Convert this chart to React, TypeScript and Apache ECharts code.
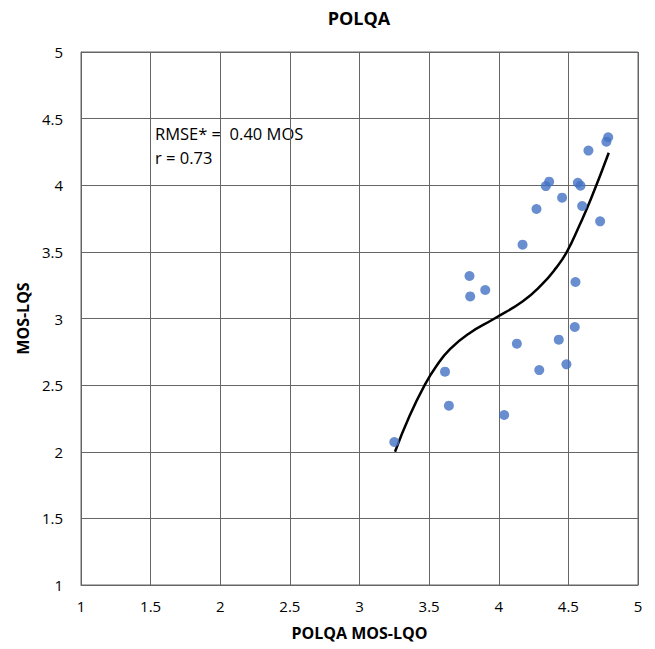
import React, { useEffect, useRef } from "react";
import * as echarts from "echarts";

const xTicks = [1, 1.5, 2, 2.5, 3, 3.5, 4, 4.5, 5];
const yTicks = [1, 1.5, 2, 2.5, 3, 3.5, 4, 4.5, 5];

const pointsX = [4.786, 4.773, 4.644, 4.362, 4.338, 4.568, 4.587, 4.455, 4.271, 4.599, 4.728, 4.171, 3.79, 3.903, 3.795, 4.551, 4.546, 4.431, 4.13, 3.614, 4.291, 4.486, 3.642, 4.039, 3.25];
const pointsY = [4.36, 4.327, 4.26, 4.027, 3.994, 4.019, 3.997, 3.907, 3.822, 3.844, 3.729, 3.554, 3.319, 3.214, 3.166, 3.274, 2.936, 2.841, 2.811, 2.601, 2.613, 2.656, 2.346, 2.276, 2.073];

const curveX = [3.255, 3.36, 3.468, 3.55, 3.65, 3.79, 3.97, 4.173, 4.305, 4.412, 4.489, 4.58, 4.663, 4.79];
const curveY = [2.0, 2.27, 2.5, 2.64, 2.77, 2.89, 3.0, 3.13, 3.25, 3.38, 3.5, 3.7, 3.9, 4.244];

const titleText = "POLQA";
const annotation = ["RMSE* =  0.40 MOS", "r = 0.73"];

export default function App() {
  const ref = useRef<HTMLDivElement>(null);
  useEffect(() => {
    if (!ref.current) return;
    const chart = echarts.init(ref.current, undefined, { renderer: "svg" });
    const font = "'Open Sans', Lato, sans-serif";
    const gridColor = "#666";
    chart.setOption({
      animation: false,
      backgroundColor: "#fff",
      grid: { left: 81, right: 17, top: 52, bottom: 64 },
      xAxis: {
        type: "value",
        min: xTicks[0],
        max: xTicks[xTicks.length - 1],
        interval: 0.5,
        name: "POLQA MOS-LQO",
        nameLocation: "middle",
        nameGap: 40,
        nameTextStyle: { fontFamily: font, fontSize: 16, fontWeight: "bold", color: "#000" },
        axisLine: { show: true, lineStyle: { color: gridColor, width: 1 } },
        axisTick: { show: false },
        axisLabel: { fontFamily: font, fontSize: 15, color: "#000", margin: 13 },
        splitLine: { show: true, lineStyle: { color: gridColor, width: 1 } },
      },
      yAxis: {
        type: "value",
        min: yTicks[0],
        max: yTicks[yTicks.length - 1],
        interval: 0.5,
        name: "MOS-LQS",
        nameLocation: "middle",
        nameGap: 48,
        nameRotate: 90,
        nameTextStyle: { fontFamily: font, fontSize: 16, fontWeight: "bold", color: "#000" },
        axisLine: { show: true, lineStyle: { color: gridColor, width: 1 } },
        axisTick: { show: false },
        axisLabel: { fontFamily: font, fontSize: 15, color: "#000", margin: 18 },
        splitLine: { show: true, lineStyle: { color: gridColor, width: 1 } },
      },
      graphic: [
        {
          type: "rect",
          shape: { x: 81, y: 52, width: 557, height: 533 },
          style: { fill: "none", stroke: gridColor, lineWidth: 1 },
          silent: true,
        },
        {
          type: "text",
          x: 359,
          y: 18,
          style: {
            text: titleText,
            fontFamily: font,
            fontSize: 18,
            fontWeight: "bold",
            fill: "#000",
            align: "center",
            verticalAlign: "middle",
          },
        },
        {
          type: "text",
          left: 155,
          top: 121,
          style: {
            text: annotation.join("\n"),
            fontFamily: font,
            fontSize: 16.5,
            lineHeight: 24,
            fill: "#000",
          },
        },
      ],
      series: [
        {
          type: "line",
          data: curveX.map((x, i) => [x, curveY[i]]),
          smooth: 0.5,
          showSymbol: false,
          lineStyle: { color: "#000", width: 2.5 },
          z: 3,
        },
        {
          type: "scatter",
          data: pointsX.map((x, i) => [x, pointsY[i]]),
          symbolSize: 10,
          itemStyle: { color: "#4472C4" },
          z: 4,
        },
      ],
    });
    return () => chart.dispose();
  }, []);
  return <div ref={ref} style={{ width: 655, height: 649, position: "absolute", left: 0, top: 0 }} />;
}
